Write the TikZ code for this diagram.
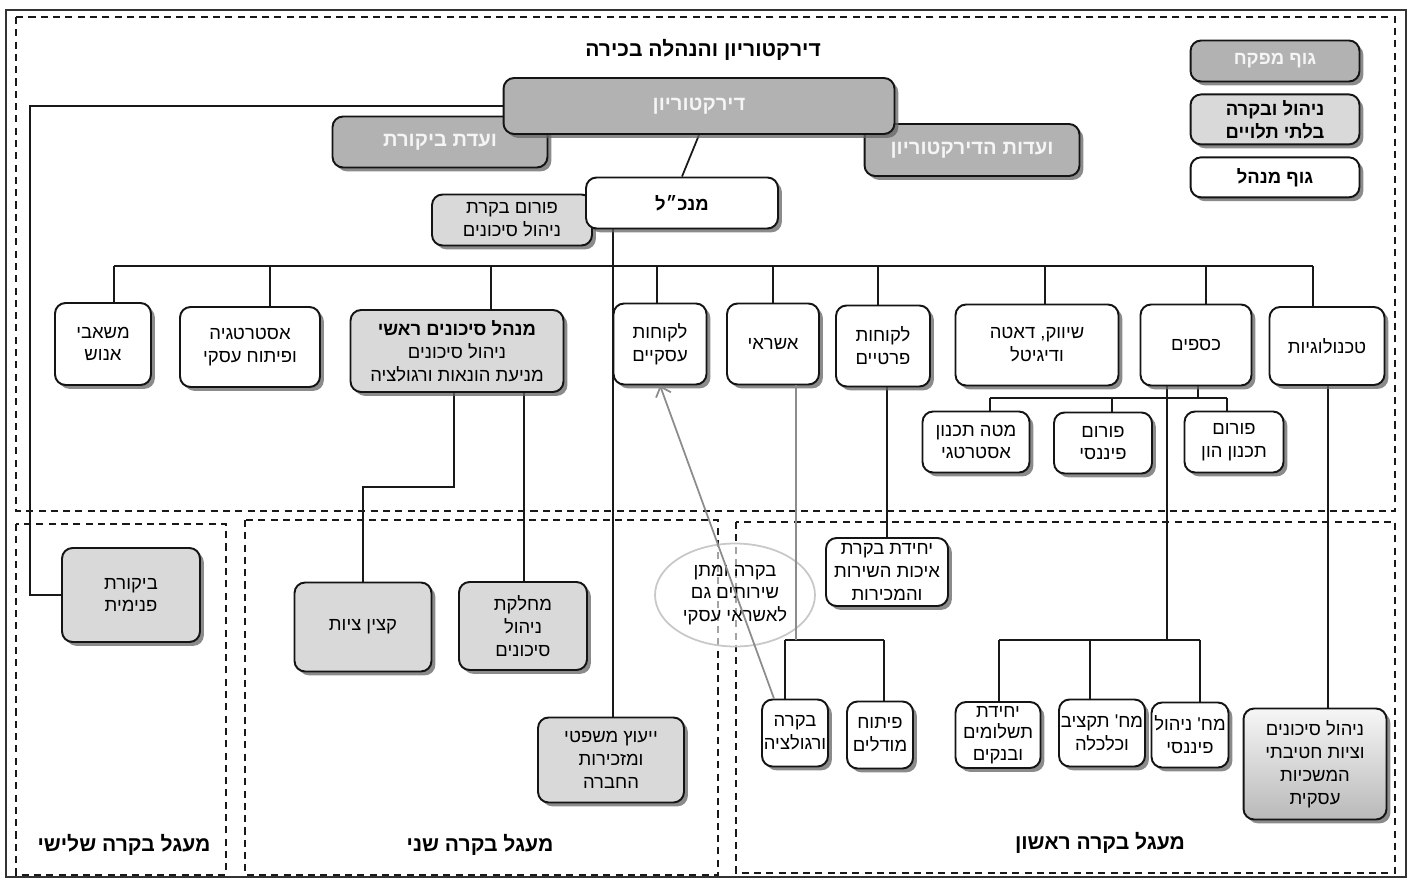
\documentclass[tikz,border=0pt]{standalone}
\usepackage{fontspec}
\setmainfont{Liberation Sans}
\newfontfamily\hebfont[Script=Hebrew]{Liberation Sans}
\usetikzlibrary{shapes.geometric,arrows.meta,positioning,backgrounds,shadows}
\TeXXeTstate=1
\newcommand{\heb}[1]{\beginR #1\endR}
\definecolor{bdrclr}{RGB}{20,20,20}
\definecolor{supfill}{RGB}{178,178,178}
\definecolor{suptext}{RGB}{245,245,245}
\definecolor{indfill}{RGB}{217,217,217}
\definecolor{shdclr}{RGB}{100,100,100}
\definecolor{regclr}{RGB}{25,25,25}
\definecolor{linkclr}{RGB}{25,25,25}
\definecolor{greyln}{RGB}{140,140,140}
\definecolor{ovalclr}{RGB}{200,200,200}
\definecolor{gradtop}{RGB}{246,246,246}
\definecolor{gradbot}{RGB}{185,185,185}
\tikzset{
  wblk/.style={rectangle,rounded corners=6pt,draw=bdrclr,line width=1.1pt,fill=white,
    drop shadow={shadow xshift=2.2pt,shadow yshift=-2.2pt,fill=shdclr,opacity=0.75},
    font=\hebfont\fontsize{10.5}{13}\selectfont,align=center,text=black,inner sep=1pt},
  gblk/.style={wblk,fill=indfill},
  dblk/.style={wblk,fill=supfill,text=suptext,
    font=\hebfont\bfseries\fontsize{11.5}{14}\selectfont},
  hdblk/.style={wblk,font=\hebfont\bfseries\fontsize{10.5}{13}\selectfont},
  regbox/.style={draw=regclr,dash pattern=on 4pt off 3pt,line width=0.9pt},
  ln/.style={draw=linkclr,line width=1pt},
  gln/.style={draw=greyln,line width=1pt},
  garr/.style={-{Straight Barb[length=5pt,width=9pt]},draw=greyln,line width=1pt},
  ttl/.style={font=\hebfont\bfseries\fontsize{12}{14}\selectfont,text=black},
  oval/.style={ellipse,draw=ovalclr,line width=1pt,fill=white,fill opacity=0.6,
    text opacity=1,font=\hebfont\fontsize{10.5}{13}\selectfont,align=center,inner sep=0pt},
}
\begin{document}
\begin{tikzpicture}[x=0.02cm,y=-0.02cm]
  \useasboundingbox (0,0) rectangle (1412,878);

  % regions
  \draw[line width=0.6pt,draw=black!80] (6,10) rectangle (1406,877);
  \draw[regbox] (16,17) rectangle (1395,511);
  \draw[regbox] (16,524) rectangle (226,875);
  \draw[regbox] (245,520) rectangle (718,875);
  \draw[regbox] (736,522) rectangle (1395,873);

  \node[ttl] (ttl) at (703,50) {\heb{דירקטוריון והנהלה בכירה}};
  \node[ttl] (c3lbl) at (124,845) {\heb{מעגל בקרה שלישי}};
  \node[ttl] (c2lbl) at (480,845) {\heb{מעגל בקרה שני}};
  \node[ttl] (c1lbl) at (1100,843) {\heb{מעגל בקרה ראשון}};

  % legend
  \node[dblk,minimum width=3.38cm,minimum height=0.82cm,
    font=\hebfont\bfseries\fontsize{10.5}{13}\selectfont] (lgsup) at (1275,61) {\heb{גוף מפקח}};
  \node[gblk,font=\hebfont\bfseries\fontsize{10.5}{13}\selectfont,minimum width=3.38cm,
    minimum height=1.0cm,below=0.22cm of lgsup] (lgind) {\heb{ניהול ובקרה}\\\heb{בלתי תלויים}};
  \node[hdblk,minimum width=3.38cm,minimum height=0.8cm,below=0.22cm of lgind] (lgmgr) {\heb{גוף מנהל}};

  % board and management
  \node[dblk,minimum width=4.3cm,minimum height=1.02cm] (auditc) at (440,142) {\heb{ועדת ביקורת}};
  \node[dblk,minimum width=4.3cm,minimum height=1.04cm] (boardc) at (972,150) {\heb{ועדות הדירקטוריון}};
  \node[dblk,minimum width=7.82cm,minimum height=1.12cm] (dir) at (699,106) {\heb{דירקטוריון}};
  \node[gblk,minimum width=3.2cm,minimum height=1.02cm] (rmforum) at (512,220) {\heb{פורום בקרת}\\\heb{ניהול סיכונים}};
  \node[hdblk,minimum width=3.84cm,minimum height=1.02cm] (ceo) at (682,203) {\heb{מנכ״ל}};

  % divisions
  \node[wblk,minimum width=1.92cm,minimum height=1.64cm] (hr) at (103,344) {\heb{משאבי}\\\heb{אנוש}};
  \node[wblk,minimum width=2.8cm,minimum height=1.6cm] (strat) at (250,347) {\heb{אסטרטגיה}\\\heb{ופיתוח עסקי}};
  \node[gblk,minimum width=4.26cm,minimum height=1.64cm] (cro) at (457,351)
    {\textbf{\heb{מנהל סיכונים ראשי}}\\\heb{ניהול סיכונים}\\\heb{מניעת הונאות ורגולציה}};
  \node[wblk,minimum width=1.86cm,minimum height=1.62cm] (bc) at (660,344) {\heb{לקוחות}\\\heb{עסקיים}};
  \node[wblk,minimum width=1.84cm,minimum height=1.62cm] (credit) at (773,344) {\heb{אשראי}};
  \node[wblk,minimum width=1.88cm,minimum height=1.62cm] (pc) at (883,346) {\heb{לקוחות}\\\heb{פרטיים}};
  \node[wblk,minimum width=3.26cm,minimum height=1.62cm] (mkt) at (1037,345) {\heb{שיווק, דאטה}\\\heb{ודיגיטל}};
  \node[wblk,minimum width=2.22cm,minimum height=1.62cm] (fin) at (1196,345) {\heb{כספים}};
  \node[wblk,minimum width=2.3cm,minimum height=1.56cm] (tech) at (1327,346) {\heb{טכנולוגיות}};

  \node[wblk,minimum width=2.14cm,minimum height=1.22cm] (stratplan) at (976,442) {\heb{מטה תכנון}\\\heb{אסטרטגי}};
  \node[wblk,minimum width=1.96cm,minimum height=1.22cm] (finforum) at (1103,443) {\heb{פורום}\\\heb{פיננסי}};
  \node[wblk,minimum width=1.98cm,minimum height=1.22cm] (capforum) at (1234,442) {\heb{פורום}\\\heb{תכנון הון}};

  % first circle
  \node[wblk,minimum width=2.44cm,minimum height=1.36cm] (qa) at (887,572) {\heb{יחידת בקרת}\\\heb{איכות השירות}\\\heb{והמכירות}};
  \node[wblk,minimum width=1.32cm,minimum height=1.34cm] (ctl) at (795,733) {\heb{בקרה}\\\heb{ורגולציה}};
  \node[wblk,minimum width=1.32cm,minimum height=1.34cm] (models) at (880,735) {\heb{פיתוח}\\\heb{מודלים}};
  \node[wblk,minimum width=1.7cm,minimum height=1.32cm,font=\hebfont\fontsize{10.5}{12.3}\selectfont] (pay) at (998,735)
    {\heb{יחידת}\\\heb{תשלומים}\\\heb{ובנקים}};
  \node[wblk,minimum width=1.72cm,minimum height=1.34cm] (budget) at (1102,733) {\heb{מח' תקציב}\\\heb{וכלכלה}};
  \node[wblk,minimum width=1.54cm,minimum height=1.3cm] (finmgmt) at (1190,735) {\heb{מח' ניהול}\\\heb{פיננסי}};
  \node[wblk,top color=gradtop,bottom color=gradbot,minimum width=2.86cm,minimum height=2.22cm] (bcm) at (1315,764)
    {\heb{ניהול סיכונים}\\\heb{וציות חטיבתי}\\\heb{המשכיות}\\\heb{עסקית}};

  % second and third circle
  \node[gblk,minimum width=2.74cm,minimum height=1.78cm] (comp) at (363,627) {\heb{קצין ציות}};
  \node[gblk,minimum width=2.56cm,minimum height=1.76cm] (rmdept) at (523,626) {\heb{מחלקת}\\\heb{ניהול}\\\heb{סיכונים}};
  \node[gblk,minimum width=2.92cm,minimum height=1.7cm] (legal) at (611,760) {\heb{ייעוץ משפטי}\\\heb{ומזכירות}\\\heb{החברה}};
  \node[gblk,minimum width=2.76cm,minimum height=1.88cm] (audit) at (131,595) {\heb{ביקורת}\\\heb{פנימית}};

  \begin{scope}[on background layer]
    \draw[ln] (dir.west) -- (30,0 |- dir.west) |- (audit.west);
    \draw[ln] (dir.south) -- (ceo.north);
    \draw[ln] (613,0 |- ceo.south) -- (613,0 |- legal.north);
    \draw[ln] (114,266) -- (1313,266);
    \foreach \x/\n in {114/hr,270/strat,491/cro,657/bc,773/credit,878/pc,1045/mkt,1206/fin,1313/tech}
      \draw[ln] (\x,266) -- (\x,0 |- \n.north);
    \draw[ln] (1198,0 |- fin.south) -- (1198,398);
    \draw[ln] (990,398) -- (1227,398);
    \foreach \x/\n in {990/stratplan,1112/finforum,1227/capforum}
      \draw[ln] (\x,398) -- (\x,0 |- \n.north);
    \draw[ln] (1167,0 |- fin.south) -- (1167,640);
    \draw[ln] (999,640) -- (1200,640);
    \foreach \x/\n in {999/pay,1090/budget,1200/finmgmt}
      \draw[ln] (\x,640) -- (\x,0 |- \n.north);
    \draw[ln] (1328,0 |- tech.south) -- (1328,0 |- bcm.north);
    \draw[ln] (887,0 |- pc.south) -- (qa.north);
    \draw[ln] (785,640) -- (884,640);
    \foreach \x/\n in {785/ctl,884/models}
      \draw[ln] (\x,640) -- (\x,0 |- \n.north);
    \draw[ln] (454,0 |- cro.south) -- (454,487) -| (comp.north);
    \draw[ln] (524,0 |- cro.south) -- (524,0 |- rmdept.north);
  \end{scope}

  \node[oval,minimum width=3.2cm,minimum height=2.06cm] (svc) at (735,595)
    {\heb{בקרה ומתן}\\\heb{שירותים גם}\\\heb{לאשראי עסקי}};
  \draw[gln] (796,0 |- credit.south) -- (796,640);
  \draw[garr] (774,0 |- ctl.north) -- (bc.south);

\end{tikzpicture}
\end{document}
